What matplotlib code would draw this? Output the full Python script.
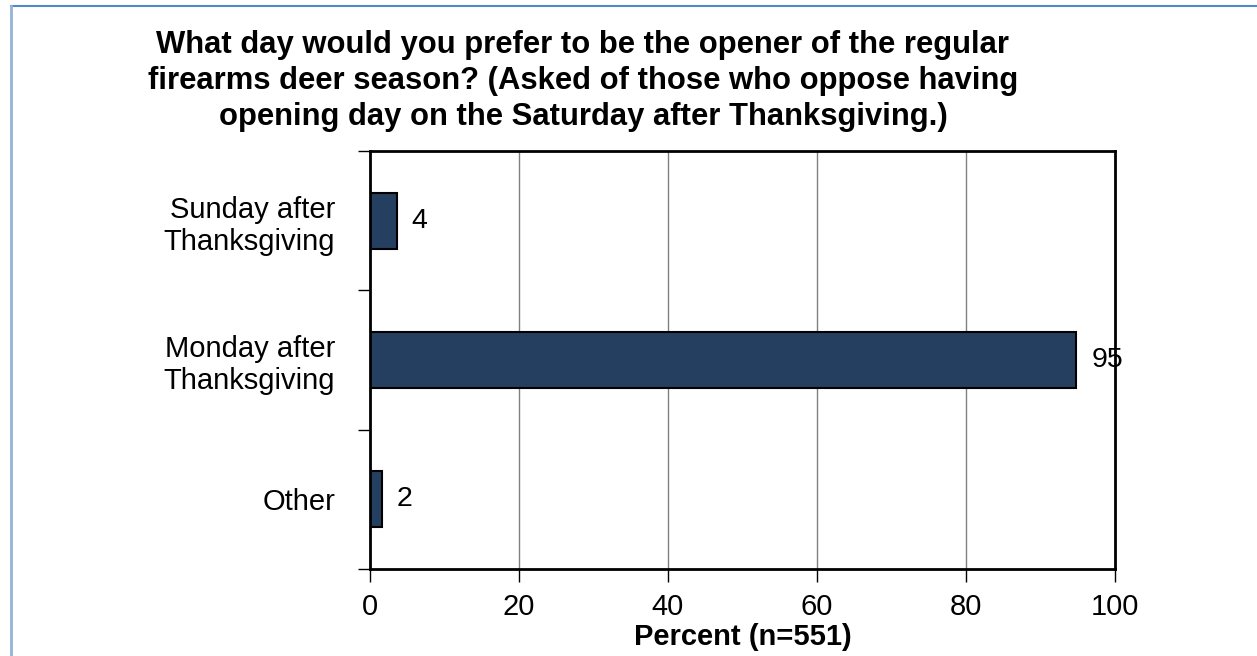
import matplotlib.pyplot as plt
from matplotlib.lines import Line2D

plt.rcParams['font.family'] = ['Liberation Sans', 'DejaVu Sans']

categories = ["Sunday after\nThanksgiving", "Monday after\nThanksgiving", "Other"]
values = [3.6, 94.8, 1.6]
labels = ["4", "95", "2"]
title = ("What day would you prefer to be the opener of the regular\n"
         "firearms deer season? (Asked of those who oppose having\n"
         "opening day on the Saturday after Thanksgiving.)")

W, H = 1257, 656
fig = plt.figure(figsize=(W / 100, H / 100), dpi=100)
ax = fig.add_axes([370 / W, 1 - 569 / H, (1115 - 370) / W, (569 - 151) / H])

pos = list(range(len(categories)))
ax.barh(pos, values, height=0.4, color='#253f61', edgecolor='black', linewidth=1.5, zorder=3)
for p, v, t in zip(pos, values, labels):
    ax.text(v + 2.0, p, t, va='center', ha='left', fontsize=20.5, zorder=6)

ax.set_xlim(0, 100)
ax.set_ylim(2.5, -0.5)
ax.set_xticks([0, 20, 40, 60, 80, 100])
ax.set_yticks([-0.5, 0.5, 1.5, 2.5])
ax.set_yticklabels([])
ax.set_yticks(pos, minor=True)
ax.set_yticklabels(categories, minor=True, fontsize=21, ha='right')
ax.tick_params(axis='y', which='minor', length=0, pad=25)
ax.tick_params(axis='y', which='major', length=9, width=1, direction='out')
ax.tick_params(axis='x', length=9, width=1, direction='out', labelsize=21, pad=8)
ax.grid(axis='x', color='#808080', linewidth=1, zorder=0)
for s in ax.spines.values():
    s.set_linewidth(2)
    s.set_zorder(5)

ax.set_xlabel("Percent (n=551)", fontsize=21, fontweight='bold', labelpad=2)
fig.text(583 / W, 1 - 30 / H, title, ha='center', va='top', fontsize=22.3,
         fontweight='bold', linespacing=1.26)

# outer border
fig.add_artist(Line2D([11 / W, 1], [1 - 6 / H, 1 - 6 / H], color='#4f88cc', linewidth=1.5))
fig.add_artist(Line2D([11 / W, 11 / W], [0, 1 - 6 / H], color='#95b3d7', linewidth=2))

fig.savefig('out.png', dpi=100)
